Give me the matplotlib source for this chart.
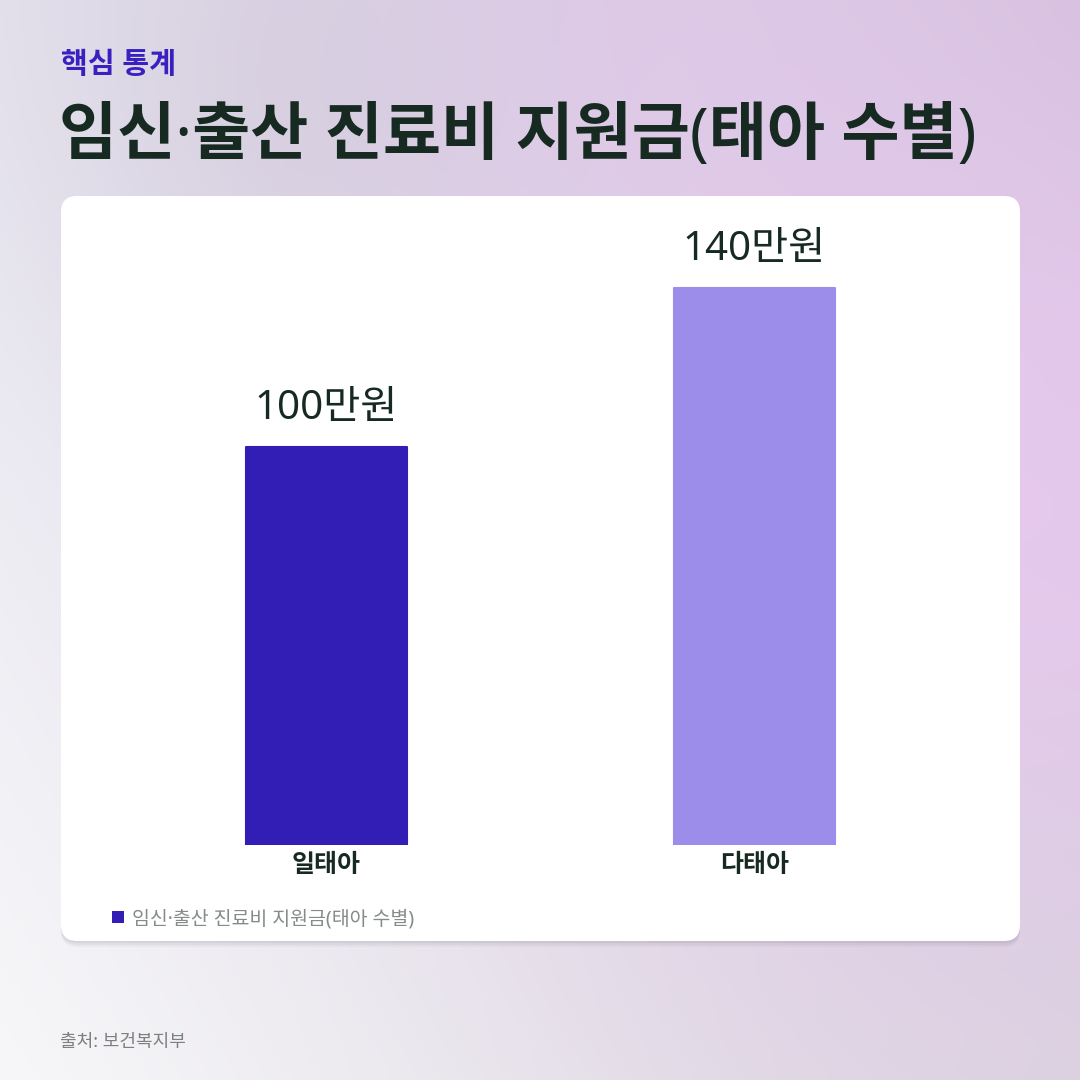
import numpy as np
import matplotlib
matplotlib.use("Agg")
import matplotlib.pyplot as plt
from matplotlib.patches import FancyBboxPatch, Patch

plt.rcParams['font.family'] = ['Noto Sans', 'Noto Sans CJK KR', 'DejaVu Sans']

# Data
categories = ["일태아", "다태아"]
values = [100, 140]
value_labels = ["100만원", "140만원"]
bar_colors = ["#321db5", "#9d8deb"]
kicker = "핵심 통계"
title = "임신·출산 진료비 지원금(태아 수별)"
series_name = "임신·출산 진료비 지원금(태아 수별)"
source = "출처: 보건복지부"

W = 1080
DARK = "#172a22"


def fx(px):
    return px / W


def fy(py):
    return 1 - py / W


fig = plt.figure(figsize=(10.8, 10.8), dpi=100)

# Background gradient
bg = fig.add_axes([0, 0, 1, 1], zorder=-10)
n = 270
yy, xx = np.mgrid[0:1:n * 1j, 0:1:n * 1j]
tl = np.array([229, 227, 238]) / 255
tr = np.array([212, 192, 220]) / 255
bl = np.array([247, 247, 249]) / 255
br = np.array([218, 212, 222]) / 255
img = (tl[None, None] * ((1 - xx) * (1 - yy))[..., None]
       + tr[None, None] * (xx * (1 - yy))[..., None]
       + bl[None, None] * ((1 - xx) * yy)[..., None]
       + br[None, None] * (xx * yy)[..., None])
blobs = [(0.30, 0.10, 0.25, 0.55, [206, 200, 216]),
         (0.95, 0.48, 0.40, 0.85, [232, 200, 240]),
         (0.65, 0.05, 0.28, 0.55, [224, 198, 234]),
         (0.85, 0.90, 0.30, 0.35, [220, 206, 226])]
for cx, cy, r, s, col in blobs:
    w = s * np.exp(-((xx - cx) ** 2 + (yy - cy) ** 2) / (r ** 2))
    img = img * (1 - w[..., None]) + (np.array(col) / 255)[None, None] * w[..., None]
bg.imshow(img, extent=[0, 1, 0, 1], aspect='auto', origin='upper')
bg.set_axis_off()

# Card with shadow
cx0, cy0, cx1, cy1 = 61, 196, 1020, 941
for off, a in [(6, 0.05), (4, 0.07), (2, 0.08)]:
    sh = FancyBboxPatch((fx(cx0), fy(cy1 + off)), fx(cx1 - cx0), fx(cy1 - cy0),
                        boxstyle="round,pad=0,rounding_size=%f" % fx(16),
                        transform=fig.transFigure, facecolor="#606070",
                        edgecolor="none", alpha=a, zorder=-5)
    fig.patches.append(sh)
card = FancyBboxPatch((fx(cx0), fy(cy1)), fx(cx1 - cx0), fx(cy1 - cy0),
                      boxstyle="round,pad=0,rounding_size=%f" % fx(16),
                      transform=fig.transFigure, facecolor="white",
                      edgecolor="none", zorder=-4)
fig.patches.append(card)

# Chart axes
ax = fig.add_axes([fx(100), fy(845), fx(880), fx(625)])
ax.patch.set_alpha(0)
x = np.arange(len(categories))
bars = ax.bar(x, values, width=0.378, color=bar_colors, edgecolor=bar_colors,
              linewidth=1.5, joinstyle='round')
ax.set_xlim((100 - 326.5) / 428, (980 - 326.5) / 428)
ax.set_ylim(0, 625 / 3.98)
for xi, v, lab in zip(x, values, value_labels):
    ax.annotate(lab, (xi, v), xytext=(0, 13), textcoords='offset points',
                ha='center', va='bottom', fontsize=29, fontweight='medium',
                color=DARK)
ax.set_xticks(x)
ax.set_xticklabels(categories, fontsize=18, fontweight='bold', color=DARK)
ax.tick_params(axis='x', length=0, pad=6)
ax.set_yticks([])
for s in ax.spines.values():
    s.set_visible(False)

# Legend
fig.legend(handles=[Patch(facecolor=bar_colors[0], label=series_name)],
           loc='center left', bbox_to_anchor=(fx(94), fy(919)), frameon=False,
           handlelength=0.62, handleheight=0.62, handletextpad=0.42,
           prop={'size': 14}, labelcolor="#858a8a")

# Titles
fig.text(fx(61), fy(66), kicker, fontsize=21, fontweight='bold',
         color="#3a20c0", va='center', ha='left')
fig.text(fx(59), fy(137), title, fontsize=45.5, fontweight='bold',
         color=DARK, va='center', ha='left')
fig.text(fx(60), fy(1042), source, fontsize=13, color="#7c8080",
         va='center', ha='left')

fig.savefig("out.png", dpi=100)
